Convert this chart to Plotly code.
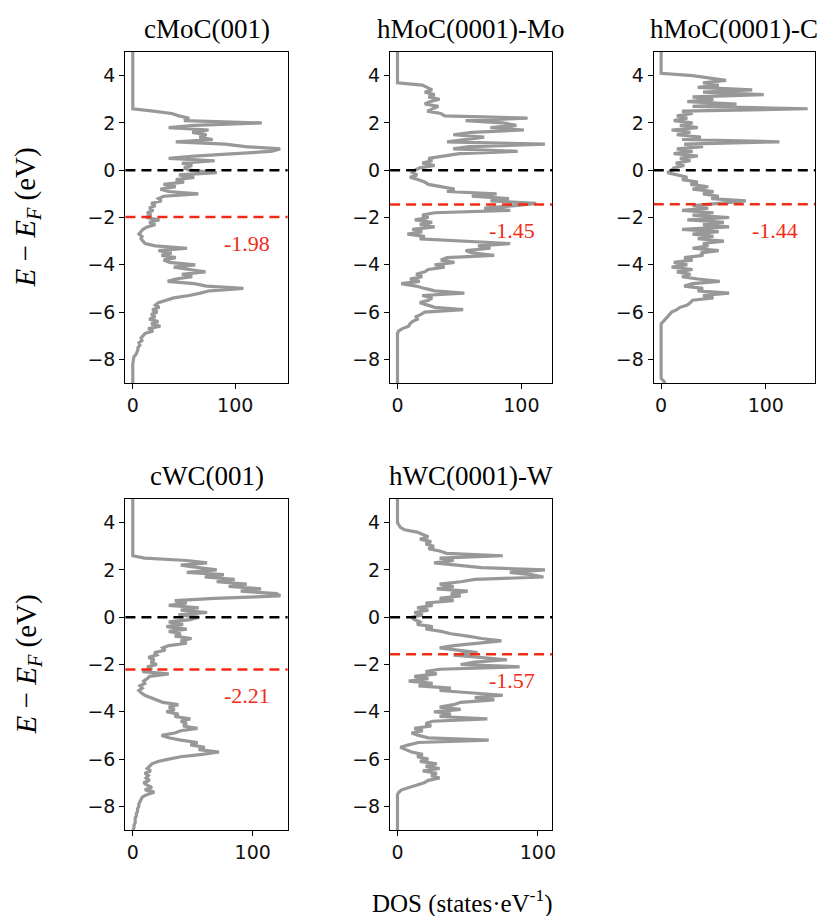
import plotly.graph_objects as go
from plotly.subplots import make_subplots

# energy grid (eV), top to bottom
energy = [round(5.0 - 0.1 * i, 1) for i in range(141)]

titles = ["cMoC(001)", "hMoC(0001)-Mo", "hMoC(0001)-C", "cWC(001)", "hWC(0001)-W"]
d_centers = [-1.98, -1.45, -1.44, -2.21, -1.57]

dos_cmoc = [0] * 25 + [
    20, 38, 45, 55, 50, 126, 60, 35, 74, 58,
    72, 65, 78, 42, 90, 110, 144, 135, 100, 60,
    35, 80, 48, 58, 50, 55, 82, 45, 60, 42,
    50, 30, 42, 27, 35, 64, 30, 25, 28, 18,
    22, 16, 20, 14, 18, 13, 26, 16, 22, 14,
    10, 8, 6, 9, 8, 10, 12, 22, 53, 25,
    38, 28, 42, 30, 36, 61, 40, 55, 71, 48,
    58, 42, 34, 60, 72, 108, 75, 66, 55, 40,
    32, 25, 22, 26, 19, 24, 18, 22, 16, 25,
    18, 27, 15, 20, 12, 10, 8, 9, 6, 7,
    5, 5, 4, 3, 1, 0.5] + [0] * 10

dos_hmoc_mo = [0] * 14 + [
    20, 24, 28, 22, 30, 25, 34, 26, 22, 33,
    28, 24, 35, 38, 105, 55, 85, 96, 75, 102,
    60, 45, 70, 55, 40, 119, 58, 45, 97, 50,
    35, 25, 28, 20, 30, 18, 14, 12, 16, 10,
    17, 22, 25, 35, 46, 40, 80, 60, 90, 75,
    112, 95, 70, 91, 30, 20, 25, 14, 28, 18,
    30, 12, 20, 8, 22, 18, 60, 91, 65, 75,
    55, 60, 78, 40, 35, 46, 30, 38, 25, 22,
    15, 20, 10, 18, 3, 15, 22, 30, 54, 20,
    28, 25, 18, 24, 30, 53, 22, 19, 15, 16,
    12, 10, 9, 4, 1] + [0] * 22

dos_hmoc_c = [0] * 10 + [
    30, 45, 62, 40, 55, 35, 87, 40, 98, 30,
    50, 25, 72, 30, 140, 20, 30, 15, 25, 12,
    30, 18, 35, 10, 28, 15, 38, 20, 113, 22,
    40, 15, 30, 12, 35, 18, 28, 14, 22, 12,
    10, 6, 15, 25, 20, 35, 28, 45, 30, 50,
    40, 55, 48, 81, 55, 30, 45, 20, 50, 30,
    65, 25, 60, 40, 65, 20, 55, 30, 50, 35,
    60, 40, 45, 30, 55, 38, 40, 22, 30, 12,
    25, 10, 30, 15, 28, 20, 35, 56, 30, 22,
    40, 35, 65, 40, 50, 30, 28, 25, 18, 15,
    10, 8, 6, 3, 1] + [0] * 24 + [2, 4]

dos_cwc = [0] * 25 + [
    10, 45, 62, 40, 55, 70, 45, 76, 60, 85,
    70, 95, 80, 107, 90, 120, 123, 68, 35, 45,
    30, 55, 40, 62, 38, 55, 48, 30, 42, 28,
    45, 30, 40, 35, 49, 40, 45, 30, 25, 27,
    18, 20, 13, 18, 15, 20, 12, 16, 8, 30,
    14, 12, 9, 10, 6, 8, 5, 7, 10, 16,
    20, 25, 38, 30, 35, 28, 38, 35, 48, 40,
    45, 42, 54, 40, 35, 24, 30, 40, 54, 48,
    60, 55, 72, 58, 40, 30, 21, 16, 14, 12,
    15, 10, 13, 11, 14, 9, 12, 16, 10, 18,
    12, 8, 7, 6, 5, 5, 4, 4, 3, 3,
    2, 2, 2, 1, 1, 0]

dos_hwc_w = [0] * 11 + [
    1, 2, 5, 14, 18, 22, 16, 24, 20, 26,
    22, 30, 35, 75, 30, 40, 26, 45, 60, 105,
    80, 95, 104, 55, 45, 30, 40, 28, 50, 38,
    45, 30, 40, 20, 25, 14, 22, 12, 18, 10,
    12, 16, 14, 25, 20, 31, 38, 50, 60, 74,
    55, 40, 30, 45, 57, 40, 60, 78, 55, 45,
    87, 30, 20, 28, 12, 22, 8, 25, 15, 38,
    30, 50, 75, 55, 69, 45, 40, 30, 45, 26,
    38, 30, 64, 25, 20, 24, 12, 18, 10, 15,
    22, 65, 15, 8, 2, 6, 10, 18, 14, 22,
    16, 28, 20, 30, 18, 28, 24, 30, 22, 19,
    14, 8, 3, 1] + [0] * 16

panels = [dos_cmoc, dos_hmoc_mo, dos_hmoc_c, dos_cwc, dos_hwc_w]
cells = [(1, 1), (1, 2), (1, 3), (2, 1), (2, 2)]

# the page body has an 8px margin, so the figure is 16px smaller than the window
OFF = 8
W, H = 828 - 2 * OFF, 924 - 2 * OFF


def px_x(p):
    return (p - OFF) / W


def px_y(p):
    return 1 - (p - OFF) / H


x_dom = [[px_x(126), px_x(289)], [px_x(392), px_x(555)], [px_x(657), px_x(819)]]
y_dom = [[px_y(383), px_y(52)], [px_y(830), px_y(499)]]
title_y = [px_y(29), px_y(476)]

fig = make_subplots(rows=2, cols=3)

tick_font = dict(family="DejaVu Sans", size=19, color="#111111")
serif = "Liberation Serif, Times New Roman, serif"

for i, (dos, (r, c)) in enumerate(zip(panels, cells)):
    fig.add_trace(go.Scatter(x=dos, y=energy, mode="lines",
                             line=dict(color="#989898", width=3.2),
                             showlegend=False, hoverinfo="skip"), row=r, col=c)
    xmax = max(dos)
    fig.update_xaxes(range=[-0.05 * xmax, 1.05 * xmax], domain=x_dom[c - 1],
                     tickvals=[0, 100], row=r, col=c)
    fig.update_yaxes(range=[-9, 5], domain=y_dom[r - 1],
                     tickvals=[-8, -6, -4, -2, 0, 2, 4], row=r, col=c)

# hide the empty sixth cell
fig.update_xaxes(visible=False, row=2, col=3)
fig.update_yaxes(visible=False, row=2, col=3)

fig.update_xaxes(showline=True, mirror=True, linecolor="black", linewidth=1.3,
                 ticks="outside", ticklen=5, tickwidth=1.3, tickcolor="black",
                 showgrid=False, zeroline=False, tickfont=tick_font)
fig.update_yaxes(showline=True, mirror=True, linecolor="black", linewidth=1.3,
                 ticks="outside", ticklen=5, tickwidth=1.3, tickcolor="black",
                 showgrid=False, zeroline=False, tickfont=tick_font)

axis_ids = ["", "2", "3", "4", "5"]
for i, (r, c) in enumerate(cells):
    ax = axis_ids[i]
    center = d_centers[i]
    fig.add_shape(type="line", xref=f"x{ax} domain", yref=f"y{ax}",
                  x0=0, x1=1, y0=0, y1=0,
                  line=dict(color="black", width=2.5, dash="10px,6px"))
    fig.add_shape(type="line", xref=f"x{ax} domain", yref=f"y{ax}",
                  x0=0, x1=1, y0=center, y1=center,
                  line=dict(color="#f22a16", width=2.5, dash="10px,6px"))
    fig.add_annotation(xref=f"x{ax} domain", yref=f"y{ax}", x=0.75, y=center - 1.1,
                       xanchor="center", yanchor="middle",
                       text=f"{center:.2f}", showarrow=False,
                       font=dict(family=serif, size=22, color="#f22a16"))
    # panel title
    xd = x_dom[c - 1]
    fig.add_annotation(xref="paper", yref="paper", x=(xd[0] + xd[1]) / 2,
                       y=title_y[r - 1], text=titles[i], showarrow=False,
                       xanchor="center", yanchor="middle",
                       font=dict(family=serif, size=27, color="black"))

# y-axis labels for both rows
for yd in y_dom:
    fig.add_annotation(xref="paper", yref="paper", x=px_x(28), y=(yd[0] + yd[1]) / 2,
                       xanchor="center", yanchor="middle",
                       text="<i>E</i> − <i>E</i><sub><i>F</i></sub> (eV)",
                       textangle=-90, showarrow=False,
                       font=dict(family=serif, size=29, color="black"))

fig.add_annotation(xref="paper", yref="paper", x=px_x(465), y=px_y(901),
                   xanchor="center", yanchor="middle",
                   text="DOS (states·eV<sup>-1</sup>)", showarrow=False,
                   font=dict(family=serif, size=25, color="black"))

fig.update_layout(width=W, height=H, margin=dict(l=0, r=0, t=0, b=0),
                  plot_bgcolor="white", paper_bgcolor="white")

fig.write_html("out.html")
